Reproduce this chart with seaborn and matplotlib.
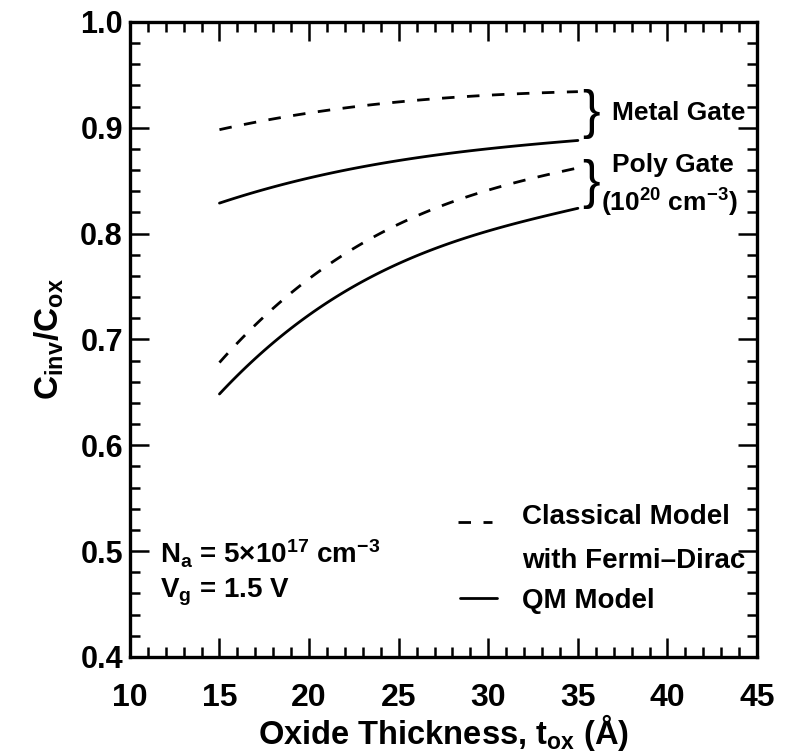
import numpy as np
import pandas as pd
import matplotlib
matplotlib.use("Agg")
import matplotlib.pyplot as plt
from matplotlib.ticker import MultipleLocator
import seaborn as sns

tox = [15, 17.5, 20, 25, 30, 35]
metal_classical = [0.898, 0.907, 0.914, 0.924, 0.931, 0.934]
metal_qm = [0.829, 0.841, 0.853, 0.869, 0.880, 0.888]
poly_classical = [0.678, 0.722, 0.757, 0.809, 0.841, 0.862]
poly_qm = [0.649, 0.688, 0.724, 0.772, 0.802, 0.824]

series = {
    ("Metal", "Classical"): metal_classical,
    ("Metal", "QM"): metal_qm,
    ("Poly", "Classical"): poly_classical,
    ("Poly", "QM"): poly_qm,
}
rows = []
for (gate, model), vals in series.items():
    for x, y in zip(tox, vals):
        rows.append({"tox": x, "ratio": y, "gate": gate, "model": model})
df = pd.DataFrame(rows)

sns.set_style("ticks")
plt.rcParams["font.family"] = ["Liberation Sans", "DejaVu Sans"]
plt.rcParams["font.weight"] = "bold"
plt.rcParams["mathtext.fontset"] = "custom"
plt.rcParams["mathtext.rm"] = "Liberation Sans:bold"
plt.rcParams["mathtext.it"] = "Liberation Sans:bold"
plt.rcParams["mathtext.bf"] = "Liberation Sans:bold"
plt.rcParams["mathtext.default"] = "rm"

fig = plt.figure(figsize=(7.87, 7.55), dpi=100)
ax = fig.add_axes([0.165, 0.130, 0.797, 0.841])

DASH = (0, (4.5, 4.5))
for (gate, model), sub in df.groupby(["gate", "model"]):
    sub = sub.sort_values("tox")
    xs = np.linspace(15, 35, 81)
    coef = np.polyfit(sub["tox"], sub["ratio"], 3)
    smooth = pd.DataFrame({"tox": xs, "ratio": np.polyval(coef, xs)})
    sns.lineplot(data=smooth, x="tox", y="ratio", ax=ax, color="black",
                 linewidth=2.0, linestyle=DASH if model == "Classical" else "-",
                 legend=False)

ax.set_xlim(10, 45)
ax.set_ylim(0.4, 1.0)
ax.xaxis.set_minor_locator(MultipleLocator(1))
ax.yaxis.set_minor_locator(MultipleLocator(0.02))
ax.set_xticks([10, 15, 20, 25, 30, 35, 40, 45])
ax.set_yticks([0.4, 0.5, 0.6, 0.7, 0.8, 0.9, 1.0])
ax.set_yticklabels(["0.4", "0.5", "0.6", "0.7", "0.8", "0.9", "1.0"])
ax.tick_params(which="both", direction="in", top=True, right=True, width=1.8, colors="black")
ax.tick_params(which="major", length=14)
ax.tick_params(which="minor", length=7)
ax.tick_params(axis="x", which="major", labelsize=23, pad=19)
ax.tick_params(axis="y", which="major", labelsize=22, pad=5)
for lab in ax.get_xticklabels() + ax.get_yticklabels():
    lab.set_fontweight("bold")
for s in ax.spines.values():
    s.set_linewidth(2.4)
    s.set_color("black")

ax.set_xlabel(r"Oxide Thickness, t$_{\mathregular{ox}}$ (Å)", fontsize=23.5, fontweight="bold",
              color="black", labelpad=-1)
ax.set_ylabel(r"C$_{\mathregular{inv}}$/C$_{\mathregular{ox}}$", fontsize=24, fontweight="bold",
              color="black", labelpad=10)

tk = dict(fontsize=20, fontweight="bold", color="black")
# braces
ax.text(35.75, 0.913, "}", fontsize=38, fontweight="normal", ha="center", va="center", color="black")
ax.text(35.75, 0.847, "}", fontsize=38, fontweight="normal", ha="center", va="center", color="black")
ax.text(36.9, 0.914, "Metal Gate", ha="left", va="center", **dict(tk, fontsize=19))
ax.text(36.9, 0.865, "Poly Gate", ha="left", va="center", **dict(tk, fontsize=19))
ax.text(36.3, 0.829, r"(10$^{20}$ cm$^{-3}$)", ha="left", va="center", **dict(tk, fontsize=19))

# legend
ax.plot([28.3, 30.2], [0.527, 0.527], color="black", linewidth=2.0, linestyle=DASH)
ax.plot([28.4, 30.5], [0.456, 0.456], color="black", linewidth=2.0)
ax.text(31.9, 0.532, "Classical Model", ha="left", va="center", **tk)
ax.text(31.9, 0.491, "with Fermi–Dirac", ha="left", va="center", **tk)
ax.text(31.9, 0.453, "QM Model", ha="left", va="center", **tk)

ax.text(11.7, 0.497, r"N$_{\mathregular{a}}$ = 5×10$^{17}$ cm$^{-3}$", ha="left", va="center", **tk)
ax.text(11.7, 0.461, r"V$_{\mathregular{g}}$ = 1.5 V", ha="left", va="center", **tk)

fig.savefig("out.png", dpi=100)
